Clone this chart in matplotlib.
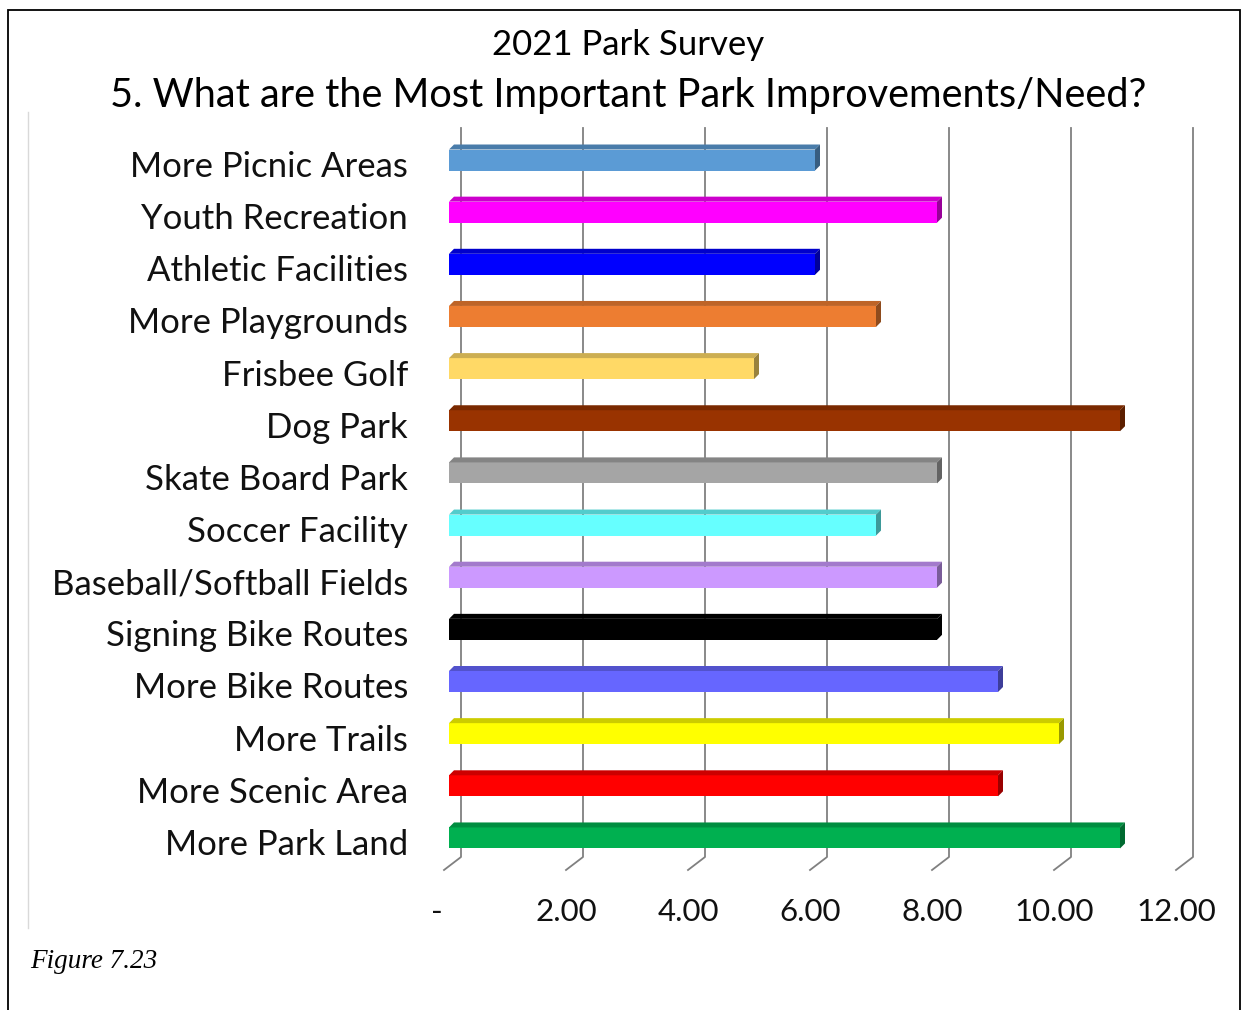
import numpy as np
import matplotlib
matplotlib.use('Agg')
import matplotlib.pyplot as plt
from matplotlib.patches import Polygon, Rectangle
from matplotlib.lines import Line2D
from matplotlib.colors import to_rgb

# survey answers, top to bottom as shown
categories = ['More Picnic Areas', 'Youth Recreation', 'Athletic Facilities',
              'More Playgrounds', 'Frisbee Golf', 'Dog Park', 'Skate Board Park',
              'Soccer Facility', 'Baseball/Softball Fields', 'Signing Bike Routes',
              'More Bike Routes', 'More Trails', 'More Scenic Area', 'More Park Land']
values = [6, 8, 6, 7, 5, 11, 8, 7, 8, 8, 9, 10, 9, 11]
colors = ['#5B9BD5', '#FF00FF', '#0000FF', '#ED7D31', '#FFD966', '#993300', '#A5A5A5',
          '#66FFFF', '#CC99FF', '#000000', '#6666FF', '#FFFF00', '#FF0000', '#00B050']
xticks = [0, 2, 4, 6, 8, 10, 12]
xticklabels = ['-', '2.00', '4.00', '6.00', '8.00', '10.00', '12.00']

W, H = 1244, 1010
fig = plt.figure(figsize=(W / 100, H / 100), dpi=100)
plt.rcParams['font.family'] = ['Lato', 'DejaVu Sans']

# pixel geometry of the plot (front plane zero at x=449, 61 px per unit)
PX, X0 = 61.0, 449.0
PY, Y0 = 52.15, 160.0
left_px, right_px, top_px, bot_px = 420, 1215, 120, 940
ax = fig.add_axes([left_px / W, 1 - bot_px / H, (right_px - left_px) / W, (bot_px - top_px) / H])
ax.set_xlim((left_px - X0) / PX, (right_px - X0) / PX)
ax.set_ylim((bot_px - Y0) / PY, (top_px - Y0) / PY)
ax.axis('off')

def shade(c, f):
    r, g, b = to_rgb(c)
    return (r * f, g * f, b * f)

# back-wall gridlines with the little diagonal floor ticks
back_dx = 12 / PX
g_top, g_bot, g_diag = (128 - Y0) / PY, (857 - Y0) / PY, (870 - Y0) / PY
for v in xticks:
    xb = v + back_dx
    ax.add_line(Line2D([xb, xb, xb - 17 / PX], [g_top, g_bot, g_diag],
                       color='#808080', lw=1.3, zorder=1))

# 3d-ish bars
h = 21 / PY
dx, dy = 5 / PX, 5 / PY
ys = np.arange(len(categories))
ax.barh(ys, values, height=h, color=colors, zorder=3, linewidth=0)
for y, v, c in zip(ys, values, colors):
    top = y - h / 2
    ax.add_patch(Polygon([(0, top), (v, top), (v + dx, top - dy), (dx, top - dy)],
                         closed=True, facecolor=shade(c, 0.8), edgecolor='none', zorder=3))
    ax.add_patch(Polygon([(v, top), (v + dx, top - dy), (v + dx, top + h - dy), (v, top + h)],
                         closed=True, facecolor=shade(c, 0.6), edgecolor='none', zorder=3))
    ax.text((408 - X0) / PX, y + 7 / PY, categories[y], ha='right', va='center',
            fontsize=25, color='#111111', clip_on=False)

for v, lab in zip(xticks, xticklabels):
    off = 12 if lab == '-' else 5
    ax.text(v - off / PX, (912 - Y0) / PY, lab, ha='center', va='center',
            fontsize=22.5, color='#111111', clip_on=False)

fig.text(628 / W, 1 - 45 / H, '2021 Park Survey', ha='center', va='center', fontsize=25)
fig.text(628 / W, 1 - 96 / H, '5. What are the Most Important Park Improvements/Need?',
         ha='center', va='center', fontsize=28.6)
fig.text(30 / W, 1 - 962 / H, 'Figure 7.23', ha='left', va='center', fontsize=19.5,
         family='Liberation Serif', style='italic')

# page frame and chart-area edge
fig.add_artist(Rectangle((8 / W, -0.05), (1240 - 8) / W, 1.05 - 10 / H, transform=fig.transFigure,
                         fill=False, edgecolor='black', lw=1.3))
fig.add_artist(Line2D([28 / W, 28 / W], [1 - 112 / H, 1 - 928 / H], transform=fig.transFigure,
                      color='#d9d9d9', lw=1.0))

fig.savefig('out.png', dpi=100, facecolor='white')
